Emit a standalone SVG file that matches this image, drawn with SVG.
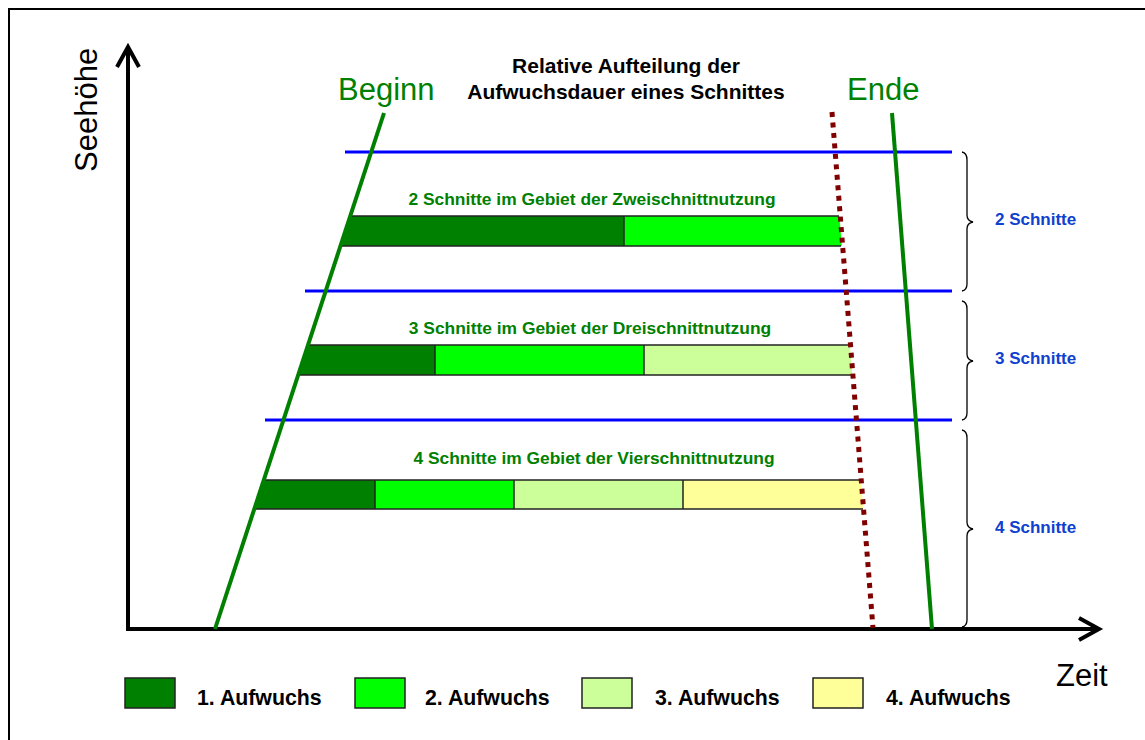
<svg xmlns="http://www.w3.org/2000/svg" width="1145" height="740" viewBox="0 0 1145 740">
<style>
.ax{stroke:#000;stroke-width:4;fill:none}
.sep{stroke:#0000ff;stroke-width:3}
.gl{stroke:#008000;stroke-width:4}
.dot{stroke:#800000;stroke-width:5;stroke-dasharray:5 5.5}
.bd{stroke:#222;stroke-width:1.5}
.br{stroke:#000;stroke-width:1.3;fill:none}
.big{font-family:"Liberation Sans",Arial,sans-serif;font-size:31px}
.ttl{font-family:"Liberation Sans",Arial,sans-serif;font-size:21px;font-weight:bold;fill:#000}
.sub{font-family:"Liberation Sans",Arial,sans-serif;font-size:17.4px;font-weight:bold;fill:#008000}
.cnt{font-family:"Liberation Sans",Arial,sans-serif;font-size:17px;font-weight:bold;fill:#1040d0}
.lg{font-family:"Liberation Sans",Arial,sans-serif;font-size:21.3px;font-weight:bold;fill:#000}
.c1{fill:#008000}.c2{fill:#00ff00}.c3{fill:#ccff99}.c4{fill:#ffff99}
</style>
<rect x="9" y="9" width="1150" height="745" fill="#fff" stroke="#000" stroke-width="2"/>

<g id="axes">
<line class="ax" x1="128" y1="630" x2="128" y2="48"/>
<polyline class="ax" points="117,67 128,47 139,67"/>
<line class="ax" x1="126" y1="629" x2="1098" y2="629"/>
<polyline class="ax" points="1079,618 1099,629 1079,640"/>
<text class="big" transform="translate(97,172) rotate(-90)">Seehöhe</text>
<text class="big" x="1056" y="686">Zeit</text>
</g>

<g id="title">
<text class="ttl" x="626" y="73" text-anchor="middle">Relative Aufteilung der</text>
<text class="ttl" x="626" y="99" text-anchor="middle">Aufwuchsdauer eines Schnittes</text>
</g>

<g id="bar2">
<text class="sub" x="592" y="205" text-anchor="middle">2 Schnitte im Gebiet der Zweischnittnutzung</text>
<polygon class="c1" points="349.7,216 624,216 624,246 339.9,246"/>
<polygon class="c2" points="624,216 839.4,216 841.8,246 624,246"/>
<line class="bd" x1="349" y1="216" x2="839" y2="216"/>
<line class="bd" x1="340" y1="246" x2="841" y2="246"/>
<line class="bd" x1="624" y1="216" x2="624" y2="246"/>
</g>

<g id="bar3">
<text class="sub" x="590" y="334" text-anchor="middle">3 Schnitte im Gebiet der Dreischnittnutzung</text>
<polygon class="c1" points="307.5,345 435,345 435,375 297.7,375"/>
<polygon class="c2" points="435,345 644,345 644,375 435,375"/>
<polygon class="c3" points="644,345 849.9,345 852.4,375 644,375"/>
<line class="bd" x1="307" y1="345" x2="849" y2="345"/>
<line class="bd" x1="298" y1="375" x2="852" y2="375"/>
<line class="bd" x1="435" y1="345" x2="435" y2="375"/>
<line class="bd" x1="644" y1="345" x2="644" y2="375"/>
</g>

<g id="bar4">
<text class="sub" x="594" y="464" text-anchor="middle">4 Schnitte im Gebiet der Vierschnittnutzung</text>
<polygon class="c1" points="264,480 375,480 375,509 254.5,509"/>
<polygon class="c2" points="375,480 514,480 514,509 375,509"/>
<polygon class="c3" points="514,480 683,480 683,509 514,509"/>
<polygon class="c4" points="683,480 860.9,480 863.3,509 683,509"/>
<line class="bd" x1="264" y1="480" x2="861" y2="480"/>
<line class="bd" x1="255" y1="509" x2="863" y2="509"/>
<line class="bd" x1="375" y1="480" x2="375" y2="509"/>
<line class="bd" x1="514" y1="480" x2="514" y2="509"/>
<line class="bd" x1="683" y1="480" x2="683" y2="509"/>
</g>

<g id="connectors">
<line class="sep" x1="345" y1="152" x2="952" y2="152"/>
<line class="sep" x1="305" y1="291" x2="952" y2="291"/>
<line class="sep" x1="265" y1="420" x2="952" y2="420"/>
<line class="gl" x1="384" y1="113" x2="215" y2="629"/>
<line class="gl" x1="892" y1="113" x2="932" y2="629"/>
<line class="dot" x1="832" y1="112" x2="873" y2="628"/>
</g>

<g id="labels-top">
<text class="big" x="338" y="100" fill="#008000">Beginn</text>
<text class="big" x="847" y="100" fill="#008000">Ende</text>
</g>

<g id="braces">
<path class="br" d="M962,152 Q967,153 967,160 L967,215 Q967,221 973,222 Q967,223 967,229 L967,284 Q967,290 962,291"/>
<path class="br" d="M962,301 Q967,302 967,309 L967,354 Q967,360 973,361 Q967,362 967,368 L967,413 Q967,419 962,420"/>
<path class="br" d="M962,430 Q967,431 967,438 L967,522 Q967,528 973,529 Q967,530 967,536 L967,620 Q967,626 962,627"/>
<text class="cnt" x="995" y="225">2 Schnitte</text>
<text class="cnt" x="995" y="364">3 Schnitte</text>
<text class="cnt" x="995" y="533">4 Schnitte</text>
</g>

<g id="legend">
<rect class="c1 bd" x="125" y="678" width="50" height="30"/>
<text class="lg" x="197" y="705">1. Aufwuchs</text>
<rect class="c2 bd" x="355" y="678" width="50" height="30"/>
<text class="lg" x="425" y="705">2. Aufwuchs</text>
<rect class="c3 bd" x="582" y="678" width="50" height="30"/>
<text class="lg" x="655" y="705">3. Aufwuchs</text>
<rect class="c4 bd" x="813" y="678" width="50" height="30"/>
<text class="lg" x="886" y="705">4. Aufwuchs</text>
</g>
</svg>
